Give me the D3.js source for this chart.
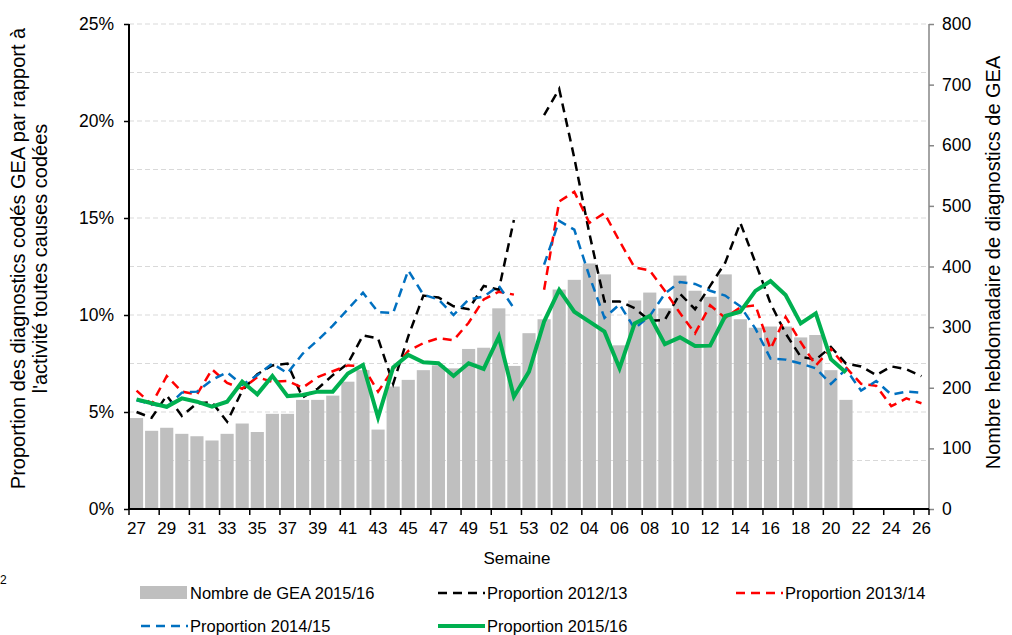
<!DOCTYPE html>
<meta charset="utf-8">
<script src="https://cdn.jsdelivr.net/npm/d3@7"></script>
<style>
  body { margin: 0; background: #fff; }
  svg text { font-family: Arial, "Liberation Sans", sans-serif; fill: #000; }
</style>
<div id="chart"></div>
<script>
  // weeks 27..53 then 01..26
  var weeks = ["27","28","29","30","31","32","33","34","35","36","37","38","39","40","41","42","43","44","45","46","47","48","49","50","51","52","53",
               "01","02","03","04","05","06","07","08","09","10","11","12","13","14","15","16","17","18","19","20","21","22","23","24","25","26"];

  // weekly number of GEA diagnoses 2015/16 (right axis)
  var nbGEA = [150,129,134,124,120,113,124,141,127,157,157,180,180,187,210,229,131,202,213,229,237,232,264,266,331,236,290,
               313,362,378,405,387,270,344,357,331,385,360,350,387,313,299,301,301,283,287,229,180];

  // proportions (%) – left axis
  var p1213 = [5.0,4.7,5.85,4.8,5.45,5.5,4.5,6.1,6.95,7.4,7.5,5.75,6.2,6.9,7.5,8.95,8.8,6.45,8.9,11.0,10.9,10.45,10.3,11.5,11.3,14.9,null,
               20.3,21.65,18.1,14.2,10.7,10.7,10.35,9.7,9.75,11.1,10.3,11.5,12.7,14.75,12.7,10.6,9.05,7.85,7.7,8.35,7.5,7.35,6.9,7.35,7.2,6.85];
  var p1314 = [6.1,5.4,6.85,6.05,5.9,7.2,6.5,6.2,6.8,6.55,6.6,6.25,6.8,7.1,7.4,7.35,6.05,7.2,8.15,8.55,8.8,8.7,9.6,10.8,11.2,11.05,null,
               11.3,15.85,16.35,14.75,15.25,13.8,12.45,12.3,11.25,10.1,9.05,10.5,9.85,10.4,10.5,8.25,9.9,8.6,7.4,8.25,7.3,6.45,6.35,5.3,5.7,5.45];
  var p1415 = [5.6,5.4,5.25,6.0,6.05,6.65,7.05,6.4,6.9,7.5,7.0,8.0,8.7,9.45,10.3,11.15,10.15,10.1,12.3,11.05,10.8,10.0,10.8,10.95,11.5,10.35,null,
               12.6,14.85,14.4,12.0,9.85,10.55,9.3,9.95,11.1,11.7,11.6,11.25,11.0,10.45,9.3,7.75,7.7,7.5,7.25,6.45,7.2,6.1,6.6,5.9,6.05,6.0];
  var p1516 = [5.65,5.45,5.27,5.7,5.53,5.27,5.53,6.56,5.91,6.86,5.82,5.88,6.05,6.05,6.98,7.42,4.72,7.3,7.94,7.56,7.51,6.86,7.51,7.22,8.88,5.79,7.08,
               9.66,11.29,10.17,9.66,9.14,7.25,9.57,9.95,8.5,8.85,8.4,8.42,9.95,10.17,11.24,11.75,11.03,9.57,10.09,7.72,7.03];

  var leftTicks = [0, 5, 10, 15, 20, 25];
  var gridTicks = [2.5, 5, 7.5, 10, 12.5, 15, 17.5, 20, 22.5, 25];
  var rightTicks = [0, 100, 200, 300, 400, 500, 600, 700, 800];

  var margin = { top: 24, right: 83, bottom: 126, left: 129 },
    width = 1012 - margin.left - margin.right,
    height = 635 - margin.top - margin.bottom;

  var svg = d3.select("#chart")
    .append("svg")
    .attr("width", 1012)
    .attr("height", 635)
    .append("g")
    .attr("transform", "translate(" + margin.left + "," + margin.top + ")");

  var x = d3.scaleBand().domain(weeks).range([0, width]).paddingInner(0.13).paddingOuter(0.065);
  var xc = function (w) { return x(w) + x.bandwidth() / 2; };
  var y = d3.scaleLinear().domain([0, 25]).range([height, 0]);
  var y2 = d3.scaleLinear().domain([0, 800]).range([height, 0]);

  // gridlines
  svg.selectAll(".grid")
    .data(gridTicks)
    .enter()
    .append("line")
    .attr("x1", 0).attr("x2", width)
    .attr("y1", function (d) { return y(d); })
    .attr("y2", function (d) { return y(d); })
    .attr("stroke", "#d9d9d9")
    .attr("stroke-width", 1)
    .attr("stroke-dasharray", "5,3");

  // bars
  svg.selectAll(".bar")
    .data(nbGEA)
    .enter()
    .append("rect")
    .attr("x", function (d, i) { return x(weeks[i]); })
    .attr("width", x.bandwidth())
    .attr("y", function (d) { return y2(d); })
    .attr("height", function (d) { return height - y2(d); })
    .attr("fill", "#bfbfbf");

  // lines
  var line = d3.line()
    .defined(function (d) { return d != null; })
    .x(function (d, i) { return xc(weeks[i]); })
    .y(function (d) { return y(d); });

  var series = [
    { data: p1213, color: "#000000", dash: "9,6", w: 2.5 },
    { data: p1314, color: "#ff0000", dash: "9,6", w: 2.5 },
    { data: p1415, color: "#0070c0", dash: "9,6", w: 2.5 },
    { data: p1516, color: "#00b050", dash: null, w: 4 }
  ];
  series.forEach(function (s) {
    svg.append("path")
      .datum(s.data)
      .attr("d", line)
      .attr("fill", "none")
      .attr("stroke", s.color)
      .attr("stroke-width", s.w)
      .attr("stroke-linejoin", "miter")
      .attr("stroke-dasharray", s.dash);
  });

  // left axis
  var yAxis = svg.append("g")
    .call(d3.axisLeft(y).tickValues(leftTicks).tickSize(5).tickFormat(function (d) { return d + "%"; }));
  yAxis.select(".domain").attr("stroke", "#000").attr("stroke-width", 2).attr("d", "M0,0V" + height);
  yAxis.selectAll("line").attr("stroke-width", 1.5);
  yAxis.selectAll("text").style("font-size", "17.5px").attr("x", -15);

  // right axis
  var y2Axis = svg.append("g")
    .attr("transform", "translate(" + width + ",0)")
    .call(d3.axisRight(y2).tickValues(rightTicks).tickSize(5));
  y2Axis.select(".domain").attr("stroke", "#868686").attr("stroke-width", 1.5).attr("d", "M0,0V" + height);
  y2Axis.selectAll("line").attr("stroke", "#868686").attr("stroke-width", 1.5);
  y2Axis.selectAll("text").style("font-size", "17.5px").attr("x", 13);

  // bottom axis
  var xAxis = svg.append("g").attr("transform", "translate(0," + height + ")");
  xAxis.append("line").attr("x1", 0).attr("x2", width).attr("stroke", "#000").attr("stroke-width", 2);
  xAxis.selectAll(".tk")
    .data(weeks.filter(function (d, i) { return i % 2 == 0; }))
    .enter()
    .append("line")
    .attr("x1", function (d) { return x(d) - x.step() * x.paddingInner() / 2; })
    .attr("x2", function (d) { return x(d) - x.step() * x.paddingInner() / 2; })
    .attr("y1", 0).attr("y2", 6)
    .attr("stroke", "#000").attr("stroke-width", 1.5);
  xAxis.append("line").attr("x1", width).attr("x2", width).attr("y1", 0).attr("y2", 6)
    .attr("stroke", "#000").attr("stroke-width", 1.5);
  xAxis.selectAll(".lbl")
    .data(weeks.filter(function (d, i) { return i % 2 == 0; }))
    .enter()
    .append("text")
    .attr("x", function (d) { return xc(d); })
    .attr("y", 25)
    .attr("text-anchor", "middle")
    .style("font-size", "17px")
    .text(function (d) { return d; });

  // axis titles
  svg.append("text")
    .attr("x", width / 2 - 12)
    .attr("y", height + 55)
    .attr("text-anchor", "middle")
    .style("font-size", "17px")
    .text("Semaine");

  var lt = svg.append("text")
    .attr("transform", "translate(" + (-104) + "," + (height / 2 - 8) + ")rotate(-90)")
    .attr("text-anchor", "middle")
    .style("font-size", "20px");
  lt.append("tspan").attr("x", 0).attr("dy", 0).text("Proportion des diagnostics codés GEA par rapport à");
  lt.append("tspan").attr("x", 0).attr("dy", 22).text("l'activité toutes causes codées");

  svg.append("text")
    .attr("transform", "translate(" + (width + 71) + "," + (height / 2 - 4) + ")rotate(-90)")
    .attr("text-anchor", "middle")
    .style("font-size", "20px")
    .text("Nombre hebdomadaire de diagnostics de GEA");

  // legend
  var legend = [
    { label: "Nombre de GEA 2015/16", type: "bar", color: "#bfbfbf", x: 140, y: 593 },
    { label: "Proportion 2012/13", type: "dash", color: "#000000", x: 437, y: 593 },
    { label: "Proportion 2013/14", type: "dash", color: "#ff0000", x: 735, y: 593 },
    { label: "Proportion 2014/15", type: "dash", color: "#0070c0", x: 140, y: 626 },
    { label: "Proportion 2015/16", type: "solid", color: "#00b050", x: 437, y: 626 }
  ];
  var lg = d3.select("svg").append("g");
  legend.forEach(function (d) {
    if (d.type == "bar") {
      lg.append("rect").attr("x", d.x).attr("y", d.y - 7).attr("width", 47).attr("height", 13).attr("fill", d.color);
    } else {
      lg.append("line")
        .attr("x1", d.x + 1).attr("x2", d.x + 48)
        .attr("y1", d.y).attr("y2", d.y)
        .attr("stroke", d.color)
        .attr("stroke-width", d.type == "solid" ? 4 : 2.5)
        .attr("stroke-dasharray", d.type == "dash" ? "9,6" : null);
    }
    lg.append("text")
      .attr("x", d.x + 50)
      .attr("y", d.y + 6)
      .style("font-size", "16.5px")
      .text(d.label);
  });

  // partly visible character at the left edge
  d3.select("svg").append("text").attr("x", 0).attr("y", 584).style("font-size", "12px").text("2");
</script>
